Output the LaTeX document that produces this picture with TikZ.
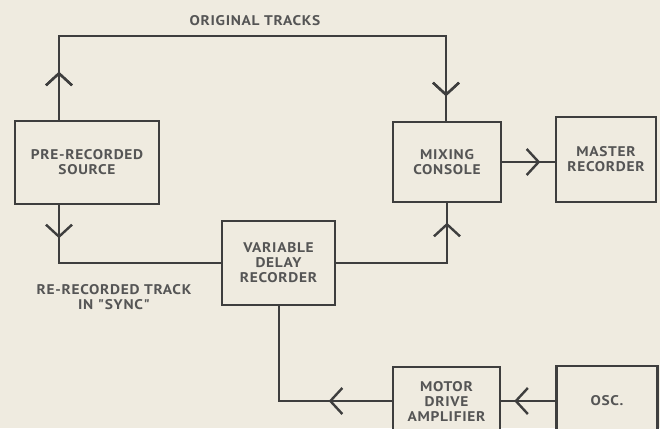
\documentclass[tikz,border=0pt]{standalone}
\usepackage{fontspec}
\setmainfont{PT Sans}
\newfontfamily\lblfont[LetterSpace=5,FakeStretch=1.1]{PT Sans}
\usetikzlibrary{arrows.meta,decorations.markings}
\definecolor{paper}{HTML}{EFEBE0}
\definecolor{ink}{HTML}{3E3E3E}
\definecolor{txt}{HTML}{555555}
\begin{document}
\begin{tikzpicture}[x=1pt,y=-1pt,
  >={Straight Barb[length=12pt,width=26pt]},
  box/.style={draw=ink,line width=2.6pt,fill=paper,inner sep=0pt,
    align=center,text=txt,font=\lblfont\bfseries\fontsize{14}{15}\selectfont},
  conn/.style={draw=ink,line width=2.4pt},
  mk/.style={postaction={decorate},decoration={markings,mark=at position #1 with {\arrow{>}}}},
  lbl/.style={text=txt,align=center,font=\lblfont\bfseries\fontsize{14}{15}\selectfont}]
\fill[paper] (0,0) rectangle (660,428);
\useasboundingbox (0,0) rectangle (660,428);
\clip (0,0) rectangle (660,428);
% boxes
\node[box,minimum width=144pt,minimum height=83pt] (pre) at (87,162.5) {PRE-RECORDED\\SOURCE};
\node[box,minimum width=108pt,minimum height=80pt] (mix) at (447,162) {MIXING\\CONSOLE};
\node[box,minimum width=100pt,minimum height=85pt] (master) at (606,159.5) {MASTER\\RECORDER};
\node[box,minimum width=113pt,minimum height=84pt] (vdr) at (278.5,263) {VARIABLE\\DELAY\\RECORDER};
\node[box,minimum width=107pt,minimum height=68pt] (motor) at (446.5,401) {MOTOR\\DRIVE\\AMPLIFIER};
\node[box,minimum width=101pt,minimum height=70pt] (osc) at (607,401) {OSC.};
% labels
\node[lbl] (orig) at (255,21) {ORIGINAL TRACKS};
\node[lbl] (rerec) at (114,297) {RE-RECORDED TRACK\\IN "SYNC"};
% corner coordinates
\coordinate (c1) at (59,36);
\coordinate (c2) at (446,36);
\coordinate (c3) at (59,263);
\coordinate (c4) at (447,263);
\coordinate (c5) at (279,401);
% connectors
\draw[conn,mk=48pt,mk=531pt] (pre.north -| c1) -- (c1) -- (c2) -- (mix.north -| c2);
\draw[conn,mk=33pt] (pre.south -| c3) -- (c3) -- (vdr.west |- c3);
\draw[conn,mk=151pt] (vdr.east |- c4) -- (c4) -- (mix.south -| c4);
\draw[conn,mk=38pt] (mix.east) -- (mix.east -| master.west);
\draw[conn,mk=41pt] (osc.west) -- (osc.west -| motor.east);
\draw[conn,mk=63pt] (motor.west) -- (c5) -- (vdr.south -| c5);
\end{tikzpicture}
\end{document}
